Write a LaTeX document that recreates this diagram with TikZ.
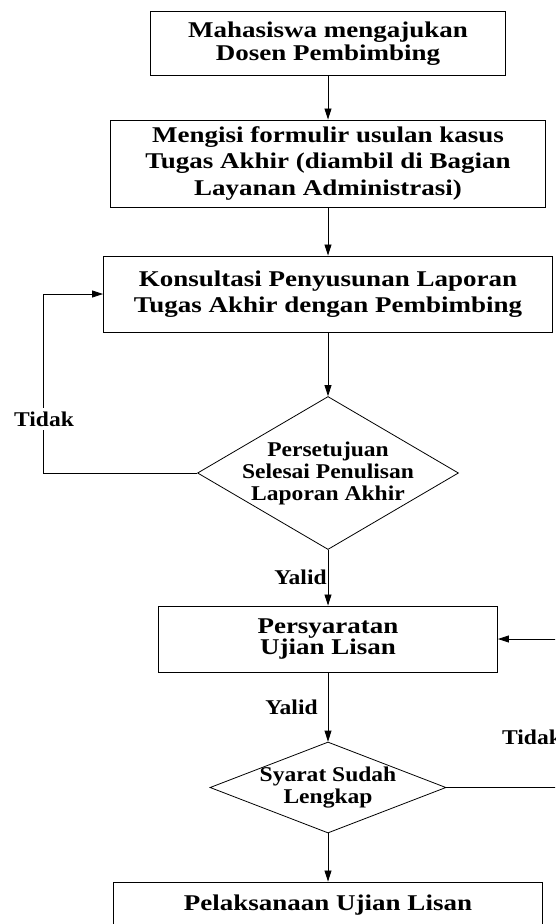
\documentclass[tikz,border=0pt]{standalone}
\usepackage{fontspec}
\setmainfont{Liberation Serif}
\newfontfamily\kotakfont{Liberation Serif}[FakeStretch=1.2]
\newfontfamily\ketfont{Liberation Serif}[FakeStretch=1.12]
\usetikzlibrary{shapes.geometric, arrows.meta}

\begin{document}
\begin{tikzpicture}[x=1pt, y=-1pt,
    proses/.style={draw, line width=0.9pt, align=center, inner sep=0pt,
        font={\kotakfont\bfseries\fontsize{22.5}{22.5}\selectfont\lineskiplimit=-50pt}},
    longgar/.style={font={\kotakfont\bfseries\fontsize{22.5}{26.5}\selectfont\lineskiplimit=-50pt},
        execute at begin node={\rule{0pt}{23.5pt}}},
    keputusan/.style={diamond, draw, line width=0.8pt, align=center, inner sep=-60pt,
        font={\ketfont\bfseries\fontsize{21}{22}\selectfont\lineskiplimit=-50pt}},
    ket/.style={font=\ketfont\bfseries\fontsize{21}{21}\selectfont, inner sep=1pt},
    panah/.style={-{Triangle[length=11pt,width=7pt]}, line width=0.8pt}]

    % batas gambar
    \clip (0,0) rectangle (555,924);

    % kotak proses dan keputusan
    \node[proses, minimum width=355pt, minimum height=64pt] (mhs) at (328,43.5)
          {Mahasiswa mengajukan\\ Dosen Pembimbing};
    \node[proses, longgar, minimum width=435pt, minimum height=87pt] (form) at (328,163.5)
          {Mengisi formulir usulan kasus\\Tugas Akhir (diambil di Bagian\\Layanan Administrasi)};
    \node[proses, longgar, minimum width=449pt, minimum height=76pt] (konsul) at (328,294)
          {Konsultasi Penyusunan Laporan\\Tugas Akhir dengan Pembimbing};
    \node[keputusan, minimum width=261pt, minimum height=153pt] (setuju) at (328,473)
          {Persetujuan\\Selesai Penulisan\\Laporan Akhir};
    \node[proses, font={\kotakfont\bfseries\fontsize{22.5}{20.5}\selectfont\lineskiplimit=-50pt},
          minimum width=339pt, minimum height=66pt] (syarat) at (328,639)
          {Persyaratan\\Ujian Lisan};
    \node[keputusan, minimum width=236pt, minimum height=91pt] (lengkap) at (328,787.5)
          {Syarat Sudah\\Lengkap};
    \node[proses, minimum width=429pt, minimum height=46pt] (ujian) at (328,905)
          {Pelaksanaan Ujian Lisan};

    % titik belok
    \coordinate (kiri)  at (43,473);
    \coordinate (kanan) at (580,787.5);

    % panah alur
    \draw[panah] (mhs) -- (form);
    \draw[panah] (form) -- (konsul);
    \draw[panah] (konsul) -- (setuju);
    \draw[panah] (setuju) -- node[ket, left] (yalid1) {Yalid} (syarat);
    \draw[panah] (syarat) -- node[ket, left=9pt] (yalid2) {Yalid} (lengkap);
    \draw[panah] (lengkap) -- (ujian);

    % umpan balik
    \draw[panah] (setuju.west) -- (kiri) |- (konsul.west);
    \draw[panah] (lengkap.east) -- (kanan) |- (syarat.east);

    % label tidak
    \node[ket, fill=white, inner ysep=4pt] (tidak1) at (44,419) {Tidak};
    \node[ket] (tidak2) at (532,737) {Tidak};

\end{tikzpicture}
\end{document}
